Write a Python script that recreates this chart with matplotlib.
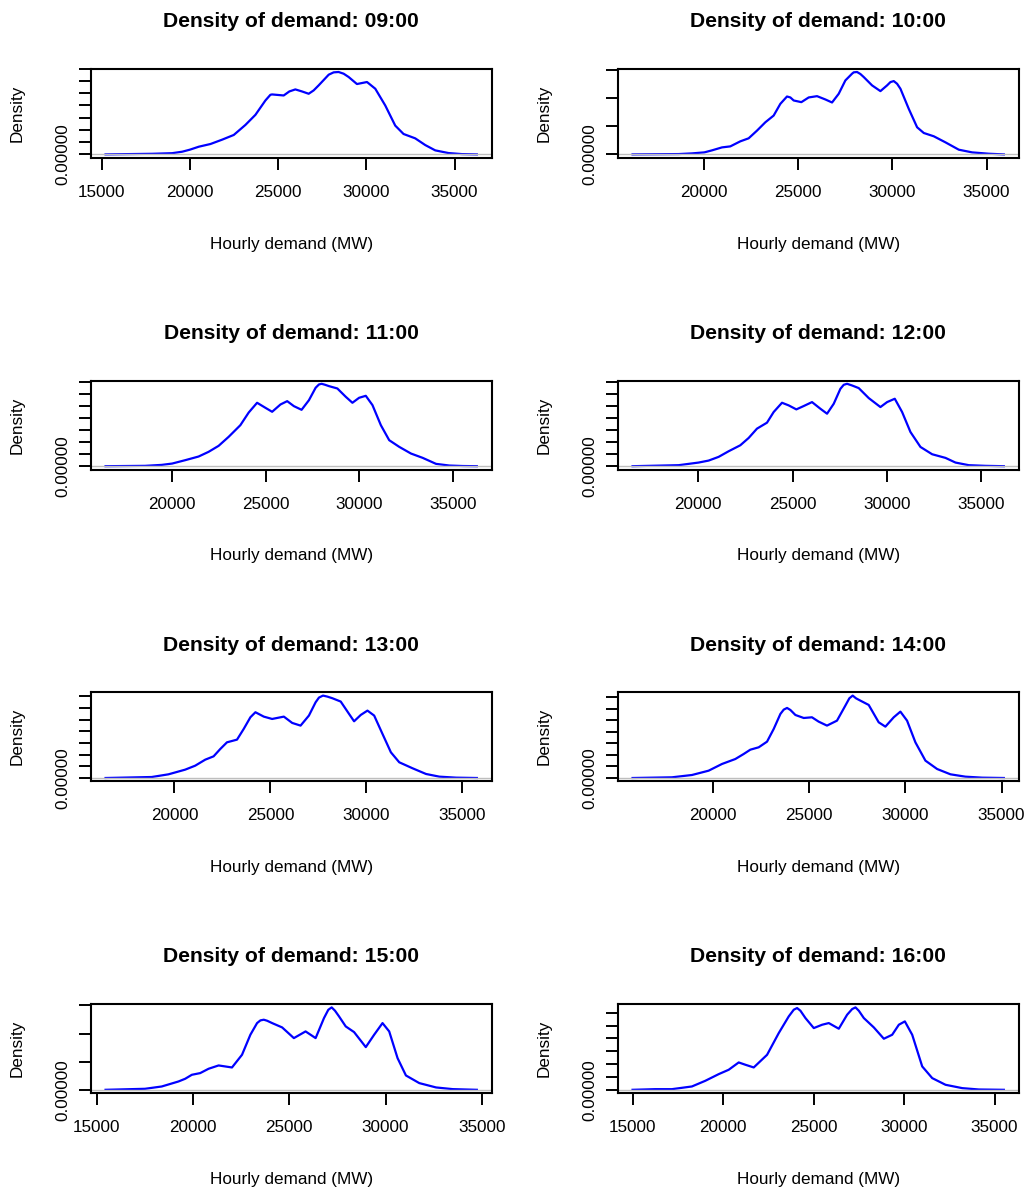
import matplotlib.pyplot as plt
from matplotlib.ticker import MultipleLocator, FuncFormatter
import numpy as np

plt.rcParams['font.family'] = ['Liberation Sans', 'DejaVu Sans']

horas = ['09:00', '10:00', '11:00', '12:00', '13:00', '14:00', '15:00', '16:00']

# demanda horária (MW) e densidade (em unidades de 1e-5)
x_09 = [15226, 17870, 19000, 19566, 20000, 20510, 21170, 21830, 22490, 23150, 23717, 24283,
        24566, 24660, 25320, 25640, 25980, 26355, 26735, 27018, 27300, 27870, 28150, 28430,
        28717, 29000, 29470, 30040, 30510, 31075, 31640, 32110, 32770, 33340, 33906, 34660,
        35415, 36264]
y_09 = [0, 0.1, 0.2, 0.44, 0.77, 1.26, 1.70, 2.41, 3.18, 4.82, 6.47, 8.82,
        9.75, 9.81, 9.64, 10.3, 10.63, 10.3, 9.92, 10.47, 11.29, 13.04, 13.42, 13.48,
        13.2, 12.66, 11.51, 11.84, 10.74, 8.0, 4.71, 3.34, 2.63, 1.53, 0.66, 0.22,
        0.05, 0]

x_10 = [16188, 18635, 19344, 20000, 20408, 20940, 21383, 21915, 22358, 22801, 23245, 23688,
        24043, 24397, 24575, 24752, 25160, 25550, 25993, 26436, 26791, 27145, 27500, 27855,
        27943, 28121, 28298, 28475, 28918, 29362, 29716, 29894, 30071, 30248, 30426, 30869,
        31312, 31667, 32199, 32819, 33528, 34238, 35124, 35922]
y_10 = [0, 0.06, 0.18, 0.36, 0.72, 1.25, 1.43, 2.33, 2.87, 4.24, 5.73, 6.93,
        9.02, 10.33, 10.16, 9.62, 9.32, 10.16, 10.39, 9.80, 9.26, 10.81, 13.20, 14.40,
        14.64, 14.70, 14.34, 13.80, 12.31, 11.29, 12.31, 12.9, 13.08, 12.6, 11.71, 8.12,
        4.84, 3.82, 3.23, 2.15, 0.84, 0.36, 0.12, 0]

x_11 = [16446, 18554, 19446, 20000, 20696, 21411, 21946, 22482, 23018, 23643, 24089, 24536,
        24982, 25339, 25786, 26143, 26500, 26911, 27304, 27661, 27839, 27982, 28161, 28375,
        28821, 29268, 29625, 29982, 30339, 30696, 31143, 31589, 32125, 32750, 33375, 34089,
        34804, 35518, 36268]
y_11 = [0, 0.06, 0.22, 0.44, 1.0, 1.61, 2.39, 3.39, 4.89, 6.83, 8.94, 10.56,
        9.72, 9.06, 10.28, 10.83, 10.0, 9.39, 10.99, 13.06, 13.61, 13.72, 13.56, 13.33,
        12.94, 11.56, 10.56, 11.39, 11.72, 10.17, 6.83, 4.33, 3.22, 2.11, 1.39, 0.39,
        0.11, 0.03, 0]

x_12 = [16515, 18956, 20018, 20548, 21079, 21610, 22229, 22671, 23113, 23644, 23998, 24440,
        24794, 25200, 25590, 26032, 26475, 26829, 27183, 27536, 27713, 27890, 28155, 28509,
        29040, 29659, 30013, 30420, 30809, 31251, 31782, 32401, 33109, 33639, 34347, 35231,
        36204]
y_12 = [0, 0.17, 0.61, 0.94, 1.56, 2.5, 3.5, 4.72, 6.28, 7.28, 9.06, 10.61,
        10.17, 9.5, 10.06, 10.72, 9.61, 8.78, 10.44, 12.94, 13.61, 13.78, 13.5, 13.06,
        11.39, 9.89, 10.72, 11.28, 9.06, 5.72, 3.22, 2.0, 1.39, 0.61, 0.17, 0.06,
        0]

x_13 = [16411, 18815, 19686, 20557, 21080, 21603, 22038, 22387, 22735, 23258, 23606, 23955,
        24216, 24652, 25087, 25697, 26132, 26568, 27003, 27352, 27526, 27735, 27961, 28223,
        28659, 29094, 29355, 29704, 30052, 30401, 30836, 31272, 31707, 32404, 33101, 33798,
        34669, 35749]
y_13 = [0, 0.17, 0.63, 1.43, 2.11, 3.14, 3.71, 4.97, 6.11, 6.57, 8.4, 10.4,
        11.26, 10.51, 10.11, 10.51, 9.43, 8.97, 10.69, 12.97, 13.77, 14.11, 13.94, 13.66,
        13.09, 10.97, 9.71, 10.8, 11.54, 10.69, 7.54, 4.4, 2.69, 1.66, 0.69, 0.23,
        0.06, 0]

x_14 = [15843, 17887, 18926, 19792, 20485, 21178, 21611, 21958, 22391, 22824, 23170, 23517,
        23690, 23863, 24036, 24296, 24729, 25156, 25502, 25935, 26455, 26888, 27096, 27269,
        27442, 27668, 28101, 28620, 28967, 29400, 29746, 30092, 30525, 31045, 31652, 32344,
        33124, 33990, 35116]
y_14 = [0, 0.12, 0.52, 1.27, 2.43, 3.29, 4.16, 4.91, 5.32, 6.30, 8.50, 11.10,
        11.85, 12.14, 11.79, 10.92, 10.40, 10.52, 9.77, 9.08, 9.94, 12.54, 13.81, 14.28,
        13.81, 13.41, 12.66, 9.65, 8.90, 10.52, 11.50, 9.94, 6.18, 3.01, 1.56, 0.64,
        0.23, 0.06, 0]

x_15 = [15469, 17517, 18385, 19253, 19601, 19948, 20382, 20816, 21337, 22031, 22552, 22986,
        23333, 23507, 23681, 23854, 24115, 24635, 25243, 25851, 26372, 26806, 27031, 27205,
        27378, 27587, 27934, 28368, 28976, 29410, 29844, 30191, 30625, 31059, 31753, 32622,
        33490, 34740]
y_15 = [0, 0.18, 0.59, 1.48, 1.96, 2.67, 2.97, 3.74, 4.33, 3.97, 6.23, 9.79,
        11.86, 12.34, 12.46, 12.28, 11.86, 11.09, 9.19, 10.38, 9.19, 12.75, 14.23, 14.65,
        14.06, 13.05, 11.27, 10.26, 7.59, 9.79, 11.86, 10.38, 5.63, 2.55, 1.19, 0.42,
        0.12, 0]

x_16 = [15000, 16253, 17175, 18281, 19018, 19760, 20313, 20866, 21235, 21696, 22433, 23078,
        23631, 23908, 24092, 24276, 24553, 25014, 25475, 25843, 26396, 26857, 27134, 27318,
        27502, 27779, 28332, 28885, 29346, 29714, 30046, 30452, 31005, 31558, 32295, 33217,
        34134, 35516]
y_16 = [0, 0.10, 0.10, 0.52, 1.40, 2.44, 3.12, 4.26, 3.90, 3.48, 5.45, 8.83,
        11.43, 12.47, 12.73, 12.31, 11.17, 9.61, 10.13, 10.39, 9.51, 11.69, 12.57, 12.83,
        12.31, 11.17, 9.71, 7.95, 8.57, 10.13, 10.65, 8.57, 3.64, 1.82, 0.78, 0.26,
        0.05, 0]

xs = [x_09, x_10, x_11, x_12, x_13, x_14, x_15, x_16]
ys = [y_09, y_10, y_11, y_12, y_13, y_14, y_15, y_16]
passo_y = [2e-5, 5e-5, 2e-5, 2e-5, 2e-5, 2e-5, 5e-5, 2e-5]

W, H = 1030, 1193
fig = plt.figure(figsize=(W / 100, H / 100), dpi=100)

# só o rótulo do zero aparece (os outros se sobrepõem no original)
fmt_y = FuncFormatter(lambda v, p: '0.00000' if abs(v) < 1e-12 else '')

for i, hora in enumerate(horas):
    lin, col = divmod(i, 2)
    topo = 68.7 + lin * 311.8
    esq = [90.7, 617.7][col]
    ax = fig.add_axes([esq / W, 1 - (topo + 89) / H, 401 / W, 89 / H])

    x = np.array(xs[i], dtype=float)
    y = np.array(ys[i]) * 1e-5

    ax.plot(x, y, color='blue', lw=1.6, solid_joinstyle='round')
    ax.axhline(0, color='#BEBEBE', lw=1.0)

    dx = x.max() - x.min()
    ax.set_xlim(x.min() - 0.04 * dx, x.max() + 0.04 * dx)
    ax.set_ylim(-0.04 * y.max(), 1.04 * y.max())

    ax.xaxis.set_major_locator(MultipleLocator(5000))
    ax.yaxis.set_major_locator(MultipleLocator(passo_y[i]))
    ax.yaxis.set_major_formatter(fmt_y)

    ax.tick_params(direction='out', length=8.5, width=1.4, labelsize=12.3, colors='black')
    ax.tick_params(axis='x', pad=11)
    ax.tick_params(axis='y', pad=6, labelrotation=90)
    for t in ax.get_yticklabels():
        t.set_va('center')
    for s in ax.spines.values():
        s.set_linewidth(1.5)

    ax.set_title(f'Density of demand: {hora}', fontsize=15.2, fontweight='bold', pad=30)
    ax.set_xlabel('Hourly demand (MW)', fontsize=12.3, labelpad=26.5)
    ax.set_ylabel('Density', fontsize=12.3, labelpad=22)

fig.savefig('out.png', dpi=100)
